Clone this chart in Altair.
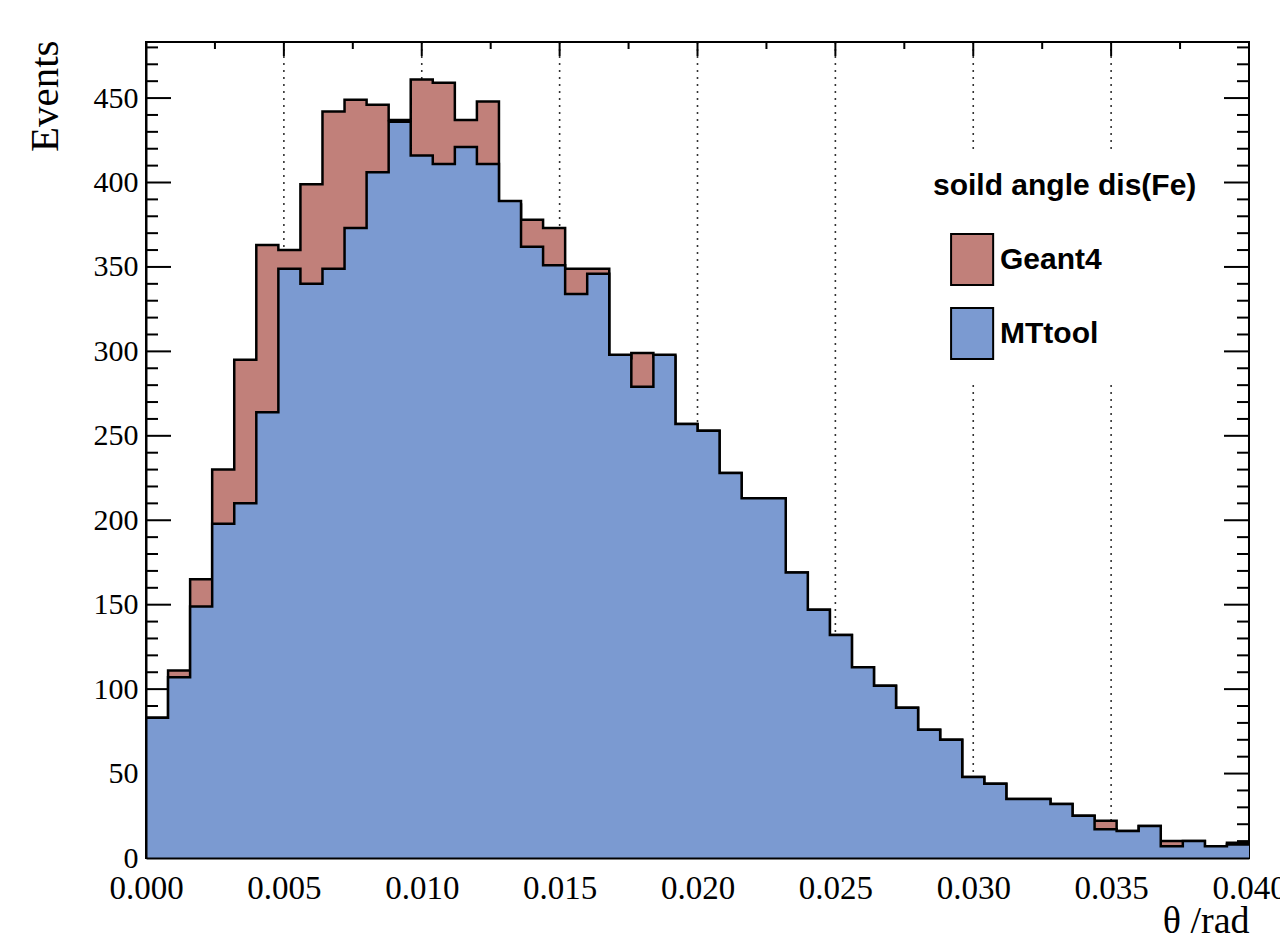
import altair as alt
import numpy as np
import pandas as pd

# ---- data (50 bins, 0 .. 0.04 rad) ----
n_bins = 50
x_min, x_max = 0.0, 0.04
y_max = 483.2

geant4 = [83, 111, 165, 230, 295, 363, 360, 399, 442, 449,
          446, 437, 461, 459, 437, 448, 387, 378, 373, 349,
          349, 296, 299, 297, 257, 253, 228, 213, 213, 169,
          147, 132, 113, 102, 89, 76, 70, 48, 44, 35,
          35, 32, 25, 22, 16, 19, 10, 10, 7, 9]
mttool = [83, 107, 149, 198, 210, 264, 349, 340, 349, 373,
          406, 436, 416, 411, 421, 411, 389, 362, 351, 334,
          346, 298, 279, 298, 257, 253, 228, 213, 213, 169,
          147, 132, 113, 102, 89, 76, 70, 48, 44, 35,
          35, 32, 25, 17, 16, 19, 7, 10, 7, 8]

series_names = ["Geant4", "MTtool"]
series_colors = ["#C1807A", "#7B9AD1"]

x_tick_labels = [0.000, 0.005, 0.010, 0.015, 0.020, 0.025, 0.030, 0.035, 0.040]
y_tick_labels = [0, 50, 100, 150, 200, 250, 300, 350, 400, 450]
grid_x = [0.005, 0.010, 0.015, 0.020, 0.025, 0.030, 0.035]
top_major = [0.005, 0.010, 0.015, 0.020, 0.025, 0.030, 0.035]
top_minor = [0.0025, 0.0075, 0.0125, 0.0175, 0.0225, 0.0275, 0.0325, 0.0375]
y_major = [50, 100, 150, 200, 250, 300, 350, 400, 450]
y_minor = [v for v in range(10, 481, 10) if v % 50 != 0]

W, H = 1103, 816

edges = np.linspace(x_min, x_max, n_bins + 1)


def step_frame(vals, name):
    return pd.DataFrame({"theta": edges, "events": list(vals) + [vals[-1]], "series": name})


g_df = step_frame(geant4, "Geant4")
m_df = step_frame(mttool, "MTtool")

xs = alt.Scale(domain=[x_min, x_max], nice=False, zero=False)
ys = alt.Scale(domain=[0, y_max], nice=False)

color = alt.Color(
    "series:N",
    scale=alt.Scale(domain=series_names, range=series_colors),
    legend=alt.Legend(
        title="soild angle dis(Fe)",
        orient="none",
        legendX=765,
        legendY=107,
        fillColor="white",
        padding=22,
        titleFont="Liberation Sans",
        titleFontSize=30,
        titleFontWeight="bold",
        titleColor="black",
        titlePadding=32,
        titleLimit=600,
        labelFont="Liberation Sans",
        labelFontSize=30,
        labelFontWeight="bold",
        labelColor="black",
        labelOffset=14,
        labelLimit=400,
        symbolType="M-0.33,-1H1.32V1H-0.33Z",
        symbolSize=2601,
        symbolStrokeColor="black",
        symbolStrokeWidth=2,
        symbolOpacity=1,
        rowPadding=15,
    ),
)

x_axis = alt.Axis(
    values=x_tick_labels, format=".3f", labelFont="Liberation Serif", labelFontSize=33,
    labelColor="black", labelPadding=14, labelFlush=False, labelOverlap=False, labelBound=False,
    ticks=False, grid=False, domain=True, domainColor="black", domainWidth=2, zindex=1,
    title="θ /rad", titleFont="Liberation Serif", titleFontSize=38, titleFontWeight="normal",
    titleColor="black", titleAnchor="end", titleAlign="right", titleBaseline="alphabetic",
    titleX=W, titleY=74,
)
y_axis = alt.Axis(
    values=y_tick_labels, labelFont="Liberation Serif", labelFontSize=30, labelColor="black",
    labelPadding=8, labelOverlap=False, labelBound=False, labelFlush=False,
    ticks=False, grid=False, domain=True, domainColor="black", domainWidth=2, zindex=1,
    title="Events", titleFont="Liberation Serif", titleFontSize=41, titleFontWeight="normal",
    titleColor="black", titleAngle=270, titleAlign="right", titleBaseline="middle",
    titleX=-101, titleY=-2,
)

X = lambda: alt.X("theta:Q", scale=xs, axis=x_axis)
Y = lambda: alt.Y("events:Q", scale=ys, axis=y_axis)

# dotted vertical grid
grid = alt.Chart(pd.DataFrame({"theta": grid_x})).mark_rule(
    color="#333333", strokeWidth=1.6, strokeDash=[2, 5]
).encode(x=X(), y=alt.value(0), y2=alt.value(H))


# inward ticks
def ytick(vals, x0, x1):
    return alt.Chart(pd.DataFrame({"events": vals})).mark_rule(color="black", strokeWidth=2).encode(
        y=Y(), x=alt.value(x0), x2=alt.value(x1))


def xtick(vals, length):
    return alt.Chart(pd.DataFrame({"theta": vals})).mark_rule(color="black", strokeWidth=2).encode(
        x=X(), y=alt.value(0), y2=alt.value(length))


ticks = [
    ytick(y_major, 0, 25), ytick(y_minor, 0, 12),
    ytick(y_major, W - 25, W), ytick(y_minor, W - 12, W),
    xtick(top_major, 14), xtick(top_minor, 7),
]

g_area = alt.Chart(g_df).mark_area(interpolate="step-after", opacity=1).encode(
    x=X(), y=Y(), color=color)
g_line = alt.Chart(g_df).mark_line(interpolate="step-after", color="black", strokeWidth=2.5).encode(
    x=X(), y=Y())
m_area = alt.Chart(m_df).mark_area(interpolate="step-after", opacity=1).encode(
    x=X(), y=Y(), color=color)
m_line = alt.Chart(m_df).mark_line(interpolate="step-after", color="black", strokeWidth=2.5).encode(
    x=X(), y=Y())

chart = alt.layer(grid, *ticks, g_area, g_line, m_area, m_line).properties(
    width=W, height=H,
    padding={"left": 138, "top": 34, "right": 31, "bottom": 78},
    autosize=alt.AutoSizeParams(type="none"),
    background="white",
).configure_view(stroke="black", strokeWidth=2)

chart.save("out.html", embed_options={"renderer": "svg", "actions": False})
